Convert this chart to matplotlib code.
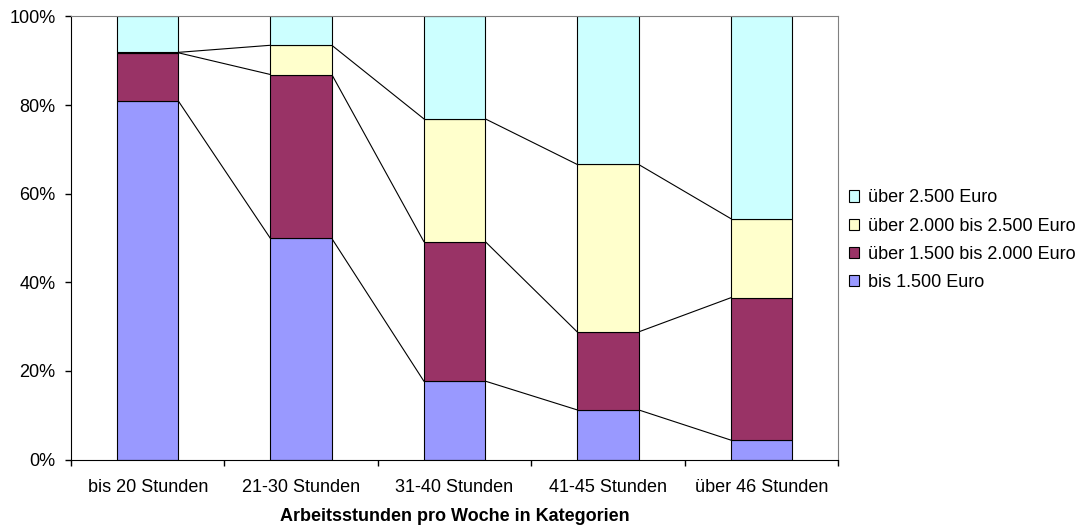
import numpy as np
import matplotlib.pyplot as plt
from matplotlib.ticker import FixedLocator, PercentFormatter

plt.rcParams['font.family'] = ['Liberation Sans', 'DejaVu Sans']

# income shares (%) per working-hours class
kategorien = ['bis 20 Stunden', '21-30 Stunden', '31-40 Stunden',
              '41-45 Stunden', 'über 46 Stunden']
bis_1500 = [80.9, 49.9, 17.7, 11.2, 4.4]
ueber_1500_2000 = [10.9, 37.0, 31.5, 17.6, 32.1]
ueber_2000_2500 = [0.1, 6.6, 27.7, 37.8, 17.9]
ueber_2500 = [8.1, 6.5, 23.1, 33.4, 45.6]

serien = [
    ('bis 1.500 Euro', bis_1500, '#9999FF'),
    ('über 1.500 bis 2.000 Euro', ueber_1500_2000, '#993366'),
    ('über 2.000 bis 2.500 Euro', ueber_2000_2500, '#FFFFCC'),
    ('über 2.500 Euro', ueber_2500, '#CCFFFF'),
]

fig = plt.figure(figsize=(10.81, 5.28), dpi=100)
ax = fig.add_axes([0.0657, 0.1297, 0.7095, 0.8391])

x = np.arange(len(kategorien))
breite = 0.4
unten = np.zeros(len(kategorien))
handles = []
for name, werte, farbe in serien:
    werte = np.array(werte)
    b = ax.bar(x, werte, breite, bottom=unten, color=farbe,
               edgecolor='black', linewidth=0.8, label=name, zorder=2)
    handles.append(b)
    oben = unten + werte
    # series lines between neighbouring bars
    if name != 'über 2.500 Euro':
        for i in range(len(x) - 1):
            ax.plot([x[i] + breite / 2, x[i + 1] - breite / 2],
                    [oben[i], oben[i + 1]], color='black', lw=0.8, zorder=1)
    unten = oben

ax.set_xlim(-0.5, len(kategorien) - 0.5)
ax.set_ylim(0, 100)
ax.yaxis.set_major_locator(FixedLocator([0, 20, 40, 60, 80, 100]))
ax.yaxis.set_major_formatter(PercentFormatter(decimals=0))
ax.set_xticks(x)
ax.set_xticklabels(kategorien)
ax.xaxis.set_minor_locator(FixedLocator(np.arange(-0.5, len(kategorien), 1)))
ax.tick_params(axis='x', which='major', length=0, pad=14, labelsize=13)
ax.tick_params(axis='x', which='minor', length=4.5, width=1, direction='out')
ax.tick_params(axis='y', length=4.5, width=1, direction='out', pad=6.5,
               labelsize=13)

ax.spines['left'].set_color('black')
ax.spines['bottom'].set_color('black')
ax.spines['top'].set_color('#808080')
ax.spines['right'].set_color('#808080')

ax.set_xlabel('Arbeitsstunden pro Woche in Kategorien', fontsize=13,
              fontweight='bold', labelpad=9)

leg = fig.legend(handles[::-1], [s[0] for s in serien][::-1],
                 loc='center left', bbox_to_anchor=(0.770, 0.545),
                 frameon=False, fontsize=13, handlelength=0.6,
                 handleheight=0.6, handletextpad=0.45, labelspacing=0.62)
for h in leg.legend_handles:
    h.set_linewidth(0.8)

fig.savefig('out.png', dpi=100)
